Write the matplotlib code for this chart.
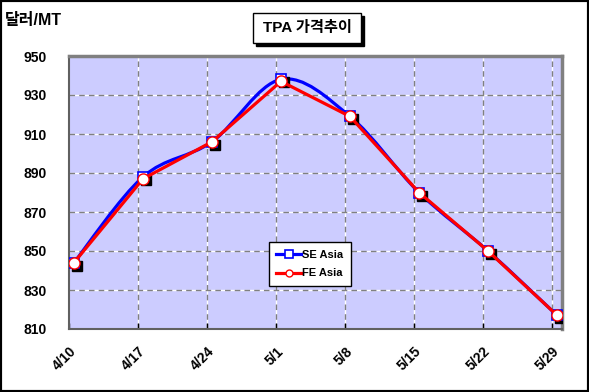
import matplotlib
matplotlib.use("Agg")
from matplotlib import pyplot as plt
from matplotlib.path import Path
from matplotlib.patches import PathPatch, Rectangle
from matplotlib.transforms import ScaledTranslation
import numpy as np

plt.rcParams['font.family'] = ['Liberation Sans', 'Noto Sans CJK KR', 'DejaVu Sans']

# weekly prices, days counted from 4/10
tick_labels = ['4/10', '4/17', '4/24', '5/1', '5/8', '5/15', '5/22', '5/29']
days = [0, 7, 14, 21, 28, 35, 42, 49]
se_asia = [844, 888, 906, 938, 919, 880, 850, 817]
fe_asia = [844, 887, 906, 937, 919, 880, 850, 817]


# Excel style smoothed line: cubic bezier segments through the points
def smooth_path(x, y):
    pts = np.column_stack([x, y]).astype(float)
    n = len(pts)
    verts = [pts[0]]
    codes = [Path.MOVETO]
    for i in range(n - 1):
        p0 = pts[max(i - 1, 0)]
        p1 = pts[i]
        p2 = pts[i + 1]
        p3 = pts[min(i + 2, n - 1)]
        verts += [p1 + (p2 - p0) / 6, p2 - (p3 - p1) / 6, p2]
        codes += [Path.CURVE4] * 3
    return Path(verts, codes)


fig = plt.figure(figsize=(5.89, 3.92), dpi=100)
fig.patch.set_facecolor('white')
ax = fig.add_axes([69 / 589, 1 - 329 / 392, (562 - 69) / 589, (329 - 56) / 392])
ax.set_facecolor('#ccccff')

x = np.array(days) + 0.5

ax.set_xlim(0, 50)
ax.set_ylim(810, 950)
ax.set_yticks(np.arange(810, 951, 20))
ax.set_xticks(days)
ax.set_xticklabels(tick_labels, rotation=45, ha='right', rotation_mode='anchor',
                   fontsize=10, fontweight='bold')
for lab in ax.get_yticklabels():
    lab.set_fontsize(10)
    lab.set_fontweight('bold')
ax.tick_params(axis='x', direction='in', length=4, width=1, color='black', pad=11)
ax.tick_params(axis='y', direction='out', length=0, pad=16)

# gridlines: white under gray dashes
for d in days[1:]:
    ax.axvline(d, color='white', lw=1, zorder=1)
    ax.axvline(d, color='#808080', lw=1, ls=(0, (4, 3)), zorder=1.1)
for v in range(830, 950, 20):
    ax.axhline(v, color='white', lw=1, zorder=1)
    ax.axhline(v, color='#808080', lw=1, ls=(0, (4, 3)), zorder=1.1)

for side in ['top', 'right']:
    ax.spines[side].set_color('#808080')
    ax.spines[side].set_linewidth(2.5)
for side in ['left', 'bottom']:
    ax.spines[side].set_color('#606060')
    ax.spines[side].set_linewidth(1.5)

# SE Asia, smoothed blue line
ax.add_patch(PathPatch(smooth_path(x, se_asia), facecolor='none', edgecolor='#0000ff',
                       lw=2.3, zorder=3))
shadow = ax.transData + ScaledTranslation(3 / 100, -3 / 100, fig.dpi_scale_trans)
ax.plot(x, se_asia, ls='none', marker='s', ms=6.5, mfc='black', mec='black',
        transform=shadow, zorder=3.5)
ax.plot(x, se_asia, ls='none', marker='s', ms=6.5, mfc='white', mec='#0000ff', mew=1.2,
        zorder=4)

# FE Asia, straight red line
ax.plot(x, fe_asia, color='#ff0000', lw=2.3, zorder=5)
ax.plot(x, fe_asia, ls='none', marker='o', ms=8, mfc='white', mec='#ff0000', mew=1,
        zorder=6)

# legend proxies
h1, = ax.plot([], [], color='#0000ff', lw=2.3, marker='s', ms=6, mfc='white',
              mec='#0000ff', mew=1.2)
h2, = ax.plot([], [], color='#ff0000', lw=2.3, marker='o', ms=5, mfc='white',
              mec='#ff0000', mew=1)
leg = ax.legend([h1, h2], ['SE Asia', 'FE Asia'], loc='center',
                bbox_to_anchor=((310 - 69) / 493, (329 - 264) / 273),
                fancybox=False, framealpha=1, edgecolor='black',
                prop={'size': 8, 'weight': 'bold'}, handlelength=2.2, handletextpad=0.15,
                borderpad=0.7, labelspacing=0.8, borderaxespad=0)
leg.get_frame().set_linewidth(1)
leg.set_zorder(10)

# axis unit label and title box with shadow
fig.text(5 / 589, 1 - 20 / 392, '달러/MT', fontsize=11.5, fontweight='bold', va='center')
fig.patches.append(Rectangle((256 / 589, 1 - 46 / 392), 108 / 589, 30 / 392,
                             transform=fig.transFigure, facecolor='black', edgecolor='black'))
fig.patches.append(Rectangle((253 / 589, 1 - 43 / 392), 108 / 589, 30 / 392,
                             transform=fig.transFigure, facecolor='white', edgecolor='black',
                             lw=1))
fig.text(307 / 589, 1 - 28 / 392, 'TPA 가격추이', fontsize=11, fontweight='bold',
         ha='center', va='center')

# outer frame
fig.patches.append(Rectangle((0, 0), 1, 1, transform=fig.transFigure, facecolor='none',
                             edgecolor='black', lw=3))

fig.savefig('out.png', dpi=100)
